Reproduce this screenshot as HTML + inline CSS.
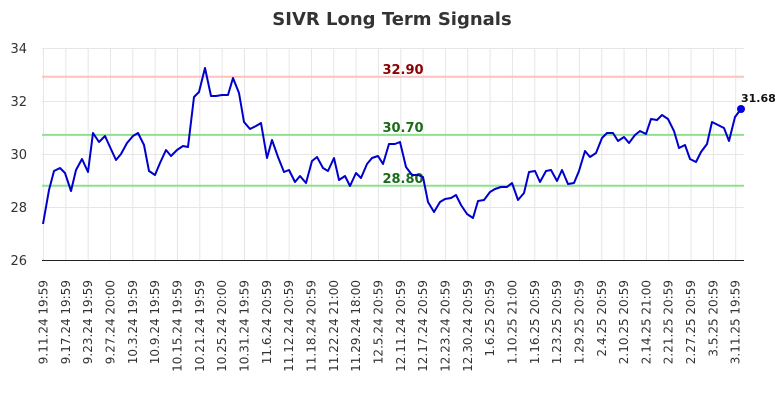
<!DOCTYPE html>
<html><head><meta charset="utf-8"><style>body{margin:0;background:#fff}svg{display:block}</style></head><body>
<svg width="784" height="400" xmlns="http://www.w3.org/2000/svg" font-family="DejaVu Sans, Liberation Sans, sans-serif">
<text x="392" y="25" text-anchor="middle" font-size="18" font-weight="bold" fill="#333">SIVR Long Term Signals</text>
<g stroke="#e6e6e6" stroke-width="1" id="grid"></g>
<g font-size="13" fill="#333" text-anchor="end">
<text x="27" y="53">34</text><text x="27" y="106">32</text><text x="27" y="159">30</text><text x="27" y="212">28</text><text x="27" y="265">26</text>
</g>
<line x1="42" y1="76.7" x2="744" y2="76.7" stroke="#ffc0c0" stroke-width="2"/>
<line x1="42" y1="134.9" x2="744" y2="134.9" stroke="#90e090" stroke-width="2"/>
<line x1="42" y1="185.8" x2="744" y2="185.8" stroke="#90e090" stroke-width="2"/>
<line x1="42" y1="260.5" x2="744" y2="260.5" stroke="#222" stroke-width="1"/>
<g font-size="13" font-weight="bold" text-anchor="middle">
<text x="403" y="74" fill="#8b0000">32.90</text>
<text x="403" y="132" fill="#1a6b1a">30.70</text>
<text x="403" y="183" fill="#1a6b1a">28.80</text>
</g>
<polyline fill="none" stroke="#0000cc" stroke-width="2" stroke-linejoin="round" points="43,224 49,190 54,171 60,168 65,173 71,191 76,170 82,159 88,172 93,133 99,142 105,136 110,147 116,160 121,154 127,143 133,136 138,133 144,145 149,171 155,175 160,163 166,150 171,156 177,150 183,146 188,147 194,97 199,92 205,68 211,96 216,96 222,95 228,95 233,78 239,93 244,122 250,129 256,126 261,123 267,158 272,140 278,157 284,172 289,170 295,182 300,176 306,183 312,161 317,157 323,168 328,171 334,158 339,180 345,176 350,186 356,173 361,178 367,164 372,158 378,156 383,164 389,144 395,144 400,142 406,167 412,175 418,175 423,177 428,202 434,212 440,202 445,199 451,198 456,195 461,205 467,214 473,218 478,201 484,200 490,192 495,189 501,187 507,187 512,183 518,200 524,193 529,172 535,171 540,182 546,171 551,170 557,181 562,170 568,184 574,183 579,171 585,151 590,157 596,153 602,138 607,133 613,133 618,141 624,137 629,143 635,135 640,131 646,134 651,119 657,120 662,115 668,119 674,131 679,148 685,145 690,159 696,162 701,152 707,144 712,122 718,125 724,128 729,141 735,117 741,109"/>
<circle cx="741" cy="109" r="4" fill="#0000dd"/>
<text x="741" y="102" font-size="11" font-weight="bold" fill="#111">31.68</text>
<g id="xl" font-size="12" fill="#333" text-anchor="end"></g>
<script>
var labels=["9.11.24 19:59","9.17.24 19:59","9.23.24 19:59","9.27.24 20:00","10.3.24 19:59","10.9.24 19:59","10.15.24 19:59","10.21.24 19:59","10.25.24 20:00","10.31.24 19:59","11.6.24 20:59","11.12.24 20:59","11.18.24 20:59","11.22.24 21:00","11.29.24 18:00","12.5.24 20:59","12.11.24 20:59","12.17.24 20:59","12.23.24 20:59","12.30.24 20:59","1.6.25 20:59","1.10.25 21:00","1.16.25 20:59","1.23.25 20:59","1.29.25 20:59","2.4.25 20:59","2.10.25 20:59","2.14.25 21:00","2.21.25 20:59","2.27.25 20:59","3.5.25 20:59","3.11.25 19:59"];
var ns="http://www.w3.org/2000/svg",g=document.getElementById("grid"),xl=document.getElementById("xl");
[48,101,154,207].forEach(function(y){var l=document.createElementNS(ns,"line");l.setAttribute("x1",42);l.setAttribute("x2",744);l.setAttribute("y1",y+.5);l.setAttribute("y2",y+.5);g.appendChild(l);});
labels.forEach(function(t,i){var x=43.5+i*22.33;var l=document.createElementNS(ns,"line");l.setAttribute("x1",x);l.setAttribute("x2",x);l.setAttribute("y1",48);l.setAttribute("y2",260);g.appendChild(l);
var tx=document.createElementNS(ns,"text");tx.setAttribute("transform","translate("+(x+4)+",280) rotate(-90)");tx.textContent=t;xl.appendChild(tx);});
</script>
</svg>
</body></html>
